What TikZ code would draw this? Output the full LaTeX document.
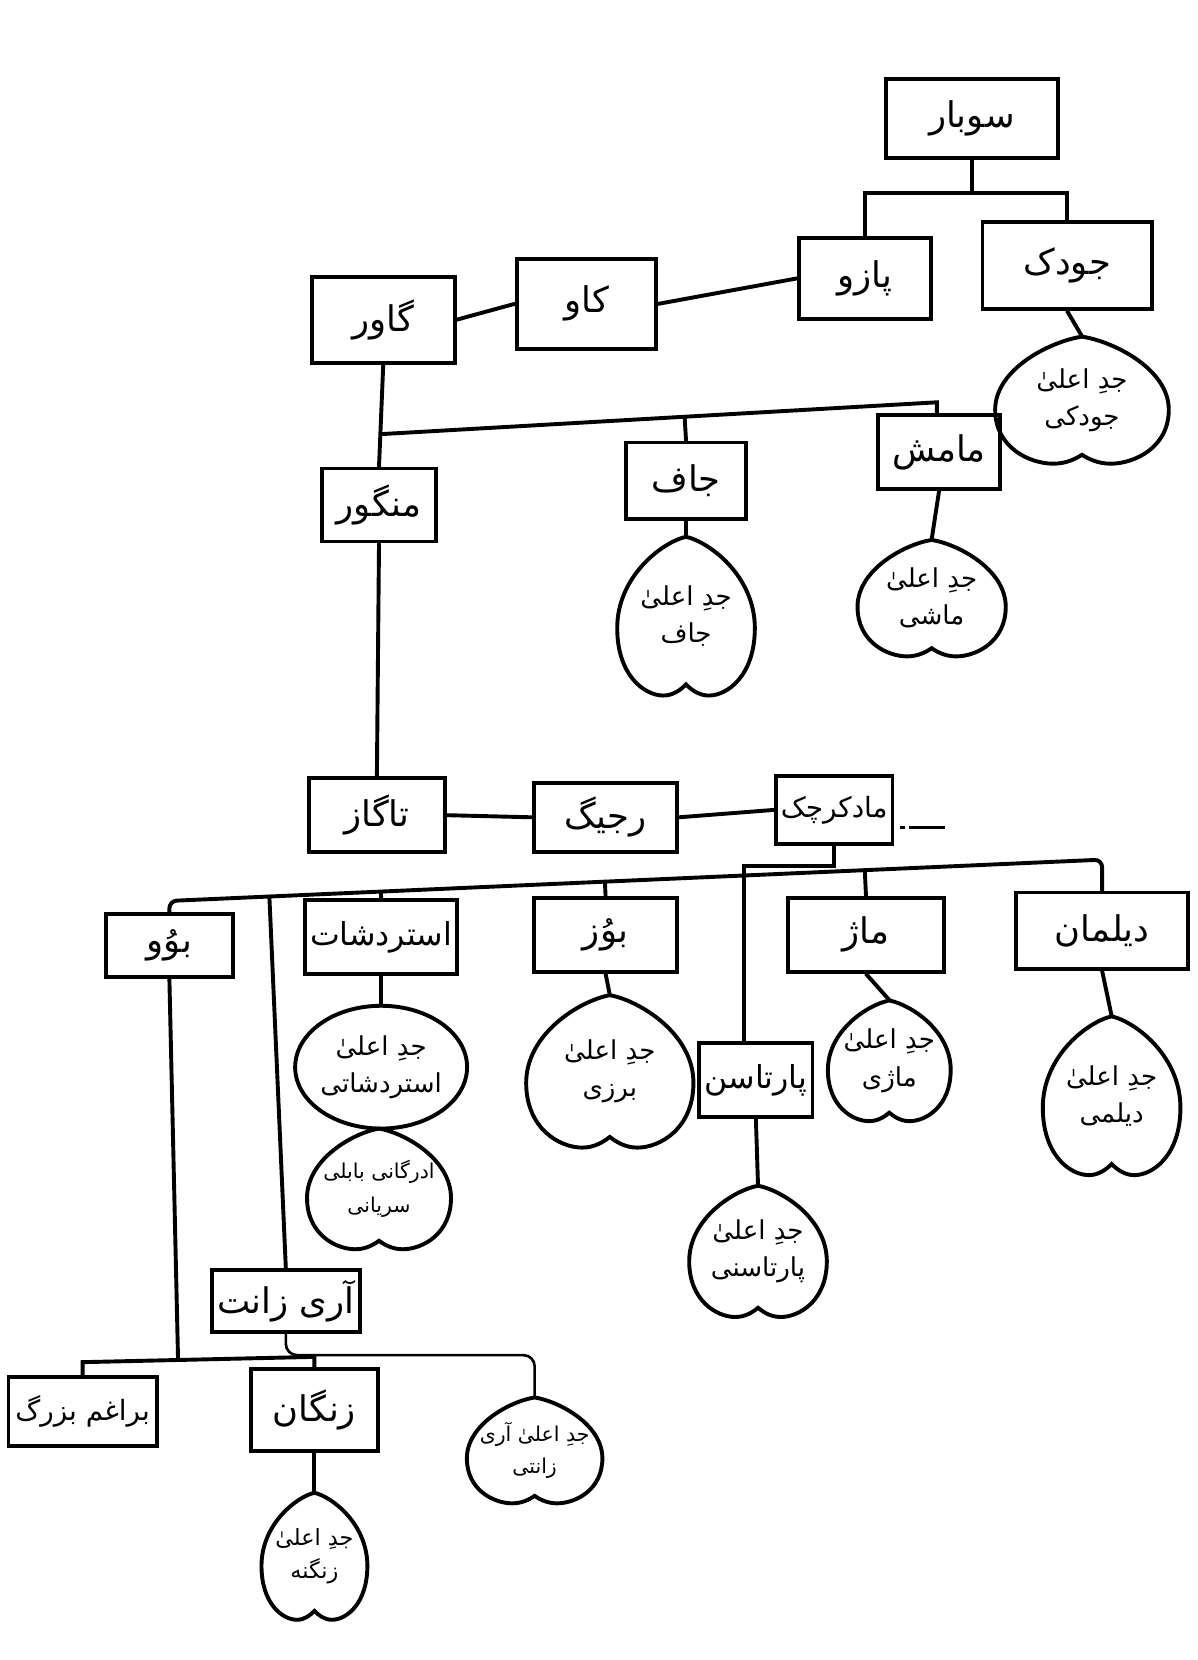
\documentclass[tikz,border=0pt]{standalone}
\usepackage{fontspec}
\newfontfamily\urdufont[Script=Arabic]{DejaVu Sans}
\TeXXeTstate=1
\usetikzlibrary{calc,shapes.geometric}
\newcommand{\urtxt}[1]{\beginR #1\endR}
\tikzset{
  tree/.style={line width=2.1pt, line cap=round},
  person/.style={draw, line width=2.1pt, inner sep=2pt, font=\urdufont\fontsize{19}{22}\selectfont},
  leaf/.style={inner sep=0pt, align=center, font=\urdufont\fontsize{14}{20}\selectfont},
  bubble/.style={draw, ellipse, line width=2.1pt, inner sep=0pt, align=center, font=\urdufont\fontsize{14}{20}\selectfont}
}
% heart-like outline round a named node: [options]{name}{x,y}{half w}{half h}{text}
\newcommand{\leaf}[6][]{%
  \node[leaf, #1, minimum width={2*#4*0.02cm}, minimum height={2*#5*0.02cm}] (#2) at (#3) {#6};
  \draw[tree, shift={(#2.center)}] (0,-#5) .. controls (0.35*#4,-0.93*#5) and (#4,-0.5*#5) .. (#4,0.15*#5)
    .. controls (#4,0.75*#5) and (0.6*#4,#5) .. (0.33*#4,#5)
    .. controls (0.18*#4,#5) and (0.07*#4,0.92*#5) .. (0,0.86*#5)
    .. controls (-0.07*#4,0.92*#5) and (-0.18*#4,#5) .. (-0.33*#4,#5)
    .. controls (-0.6*#4,#5) and (-#4,0.75*#5) .. (-#4,0.15*#5)
    .. controls (-#4,-0.5*#5) and (-0.35*#4,-0.93*#5) .. cycle;}

\begin{document}
\begin{tikzpicture}[x=0.02cm, y=-0.02cm]
  \useasboundingbox (0,0) rectangle (1131,1568);

  % first generations
  \node[person, minimum width=3.26cm, minimum height=1.5cm] (sobar) at (918,112) {\urtxt{سوبار}};
  \node[person, minimum width=3.2cm, minimum height=1.64cm] (jodak) at (1008,251) {\urtxt{جودک}};
  \node[person, minimum width=2.5cm, minimum height=1.54cm] (pazo) at (817,263) {\urtxt{پازو}};
  \node[person, minimum width=2.64cm, minimum height=1.7cm] (kao) at (554,287) {\urtxt{کاو}};
  \node[person, minimum width=2.7cm, minimum height=1.62cm] (gavar) at (362,302) {\urtxt{گاور}};
  \leaf{jodaki}{1022,378}{82}{60}{\urtxt{جدِ اعلیٰ}\\\urtxt{جودکی}}

  \node[person, minimum width=2.3cm, minimum height=1.4cm] (mamesh) at (887,427) {\urtxt{مامش}};
  \node[person, minimum width=2.26cm, minimum height=1.44cm] (jaf) at (648,454) {\urtxt{جاف}};
  \node[person, minimum width=2.14cm, minimum height=1.38cm] (mangor) at (358,477) {\urtxt{منگور}};
  \leaf{jafh}{648,582}{65}{75}{\urtxt{جدِ اعلیٰ}\\\urtxt{جاف}}
  \leaf{mashi}{880,565}{70}{55}{\urtxt{جدِ اعلیٰ}\\\urtxt{ماشی}}

  \node[person, minimum width=2.56cm, minimum height=1.4cm] (tagaz) at (356,770) {\urtxt{تاگاز}};
  \node[person, minimum width=2.7cm, minimum height=1.3cm] (rajig) at (572,772) {\urtxt{رجیگ}};
  \node[person, minimum width=2.2cm, minimum height=1.28cm, font=\urdufont\fontsize{15}{18}\selectfont] (madk) at (788,765) {\urtxt{مادکرچک}};

  % children of madkarchak
  \node[person, minimum width=2.4cm, minimum height=1.2cm] (bodo) at (160,893) {\urtxt{بوُو}};
  \node[person, minimum width=2.86cm, minimum height=1.4cm, font=\urdufont\fontsize{17}{20}\selectfont] (astr) at (360,885) {\urtxt{استردشات}};
  \node[person, minimum width=2.7cm, minimum height=1.4cm] (boz) at (572,883) {\urtxt{بوُز}};
  \node[person, minimum width=2.94cm, minimum height=1.4cm] (maj) at (818,883) {\urtxt{ماژ}};
  \node[person, minimum width=3.26cm, minimum height=1.44cm] (dilman) at (1041,879) {\urtxt{دیلمان}};
  \node[person, minimum width=2.14cm, minimum height=1.4cm, font=\urdufont\fontsize{17}{20}\selectfont] (partas) at (714,1020) {\urtxt{پارتاسن}};
  \node[bubble, minimum width=2.8cm, minimum height=2.32cm] (astrh) at (360,1008) {\urtxt{جدِ اعلیٰ}\\\urtxt{استردشاتی}};
  \leaf[font=\urdufont\fontsize{11}{18}\selectfont]{ardh}{358,1123}{68}{57}{\urtxt{ادرگانی بابلی}\\\urtxt{سریانی}}
  \leaf{barzi}{576,1012}{79}{72}{\urtxt{جدِ اعلیٰ}\\\urtxt{برزی}}
  \leaf{partash}{716,1182}{65}{62}{\urtxt{جدِ اعلیٰ}\\\urtxt{پارتاسنی}}
  \leaf{maji}{840,1002}{58}{57}{\urtxt{جدِ اعلیٰ}\\\urtxt{ماژی}}
  \leaf{dilmi}{1050,1035}{65}{75}{\urtxt{جدِ اعلیٰ}\\\urtxt{دیلمی}}

  % bottom rows
  \node[person, minimum width=2.8cm, minimum height=1.16cm] (arizant) at (270,1229) {\urtxt{آری زانت}};
  \node[person, minimum width=2.8cm, minimum height=1.3cm, font=\urdufont\fontsize{15}{18}\selectfont] (bagham) at (78,1333) {\urtxt{براغم بزرگ}};
  \node[person, minimum width=2.4cm, minimum height=1.54cm] (zangan) at (297,1332) {\urtxt{زنگان}};
  \leaf[font=\urdufont\fontsize{11}{17}\selectfont]{zanti}{505,1370}{64}{50}{\urtxt{جدِ اعلیٰ آری}\\\urtxt{زانتی}}
  \leaf[font=\urdufont\fontsize{12}{18}\selectfont]{zangna}{297,1470}{50}{60}{\urtxt{جدِ اعلیٰ}\\\urtxt{زنگنه}}

  % connectors, top
  \coordinate (topbar) at (918,182);
  \draw[tree] (sobar.south) -- (topbar);
  \draw[tree] (pazo.north) -- (pazo.north |- topbar) -- (jodak.north |- topbar) -- (jodak.north);
  \draw[tree] (pazo.west) -- (kao.east);
  \draw[tree] (kao.west) -- (gavar.east);
  \draw[tree] (jodak.south) -- (jodaki.north);

  \coordinate (midL) at (361,410);
  \coordinate (midR) at (885,380);
  \draw[tree] (gavar.south) -- (mangor.north);
  \draw[tree] (midL) -- (midR) -- (midR |- mamesh.north);
  \draw[tree] (jaf.north) -- ($(midL)!(jaf.north)!(midR)$);
  \draw[tree] (jaf.south) -- (jafh.north);
  \draw[tree] (mamesh.south) -- (mashi.north);

  \draw[tree] (mangor.south) -- (tagaz.north);
  \draw[tree] (tagaz.east) -- (rajig.west);
  \draw[tree] (rajig.east) -- (madk.west);
  \coordinate (dashend) at (893,782);
  \draw[line width=1.5pt, dash pattern=on 3pt off 2pt on 20pt off 2pt] (madk.east |- dashend) ++(5,0) -- (dashend);

  \coordinate (jog) at (703,818);
  \draw[tree] (madk.south) |- (jog) -- (jog |- partas.north);

  \coordinate (bigL) at (160,851);
  \coordinate (bigR) at (1041,812);
  \draw[tree, rounded corners=4pt] (bodo.north) -- (bigL) -- (bigR) -- (dilman.north);
  \foreach \kid in {astr, boz, maj, arizant}
    \draw[tree] (\kid.north) -- ($(bigL)!(\kid.north)!(bigR)$);
  \draw[tree] (astr.south) -- (astrh.north);
  \draw[tree] (boz.south) -- (barzi.north);
  \draw[tree] (maj.south) -- (maji.north);
  \draw[tree] (dilman.south) -- (dilmi.north);
  \draw[tree] (partas.south) -- (partash.north);

  \path (bagham.north) ++(0,-12) coordinate (lowL);
  \path (zangan.north) ++(0,-10) coordinate (lowR);
  \draw[tree] (bagham.north) -- (lowL) -- (lowR) -- (zangan.north);
  \draw[tree] (bodo.south) -- ($(lowL)!(bodo.south)!(lowR)$);
  \draw[tree] (zangan.south) -- (zangna.north);
  \coordinate (zbend) at (505,1280);
  \draw[line width=1.4pt, rounded corners=6pt] (arizant.south) |- (zbend) -- (zanti.north);
\end{tikzpicture}
\end{document}
